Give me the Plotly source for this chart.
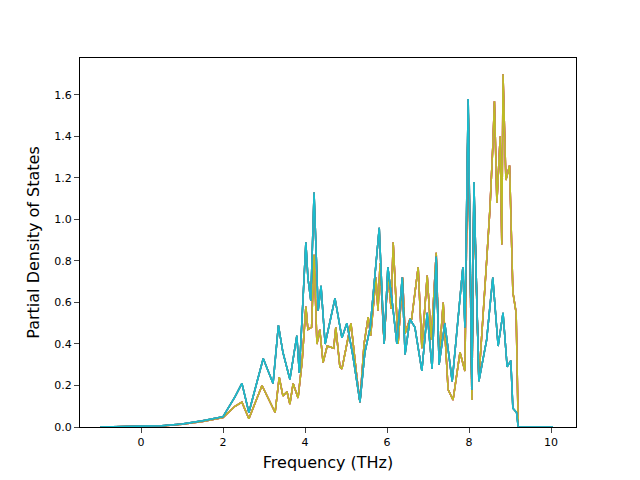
import plotly.graph_objects as go

# frequency (THz) and PDOS, two groups of overlapping curves
freq_a = [-1, 0, 0.5, 1, 1.5, 2, 2.29, 2.46, 2.63, 2.98, 3.22, 3.35, 3.46, 3.63, 3.80, 3.86, 3.93,
          4.02, 4.07, 4.14, 4.22, 4.32, 4.39, 4.49, 4.73, 4.90, 5.02, 5.17, 5.34, 5.46, 5.59, 5.71,
          5.81, 5.93, 6.02, 6.14, 6.24, 6.37, 6.44, 6.56, 6.68, 6.85, 6.98, 7.10, 7.20, 7.27, 7.41,
          7.59, 7.74, 7.85, 7.90, 7.98, 8.07, 8.12, 8.24, 8.43, 8.58, 8.71, 8.83, 8.93, 9.02, 9.07,
          9.16, 9.2, 10.05]
pdos_a = [0, 0.002, 0.006, 0.015, 0.03, 0.05, 0.145, 0.21, 0.07, 0.33, 0.21, 0.49, 0.36, 0.23, 0.44,
          0.26, 0.55, 0.89, 0.72, 0.61, 1.13, 0.56, 0.68, 0.40, 0.62, 0.43, 0.50, 0.34, 0.12, 0.36,
          0.48, 0.76, 0.96, 0.40, 0.77, 0.58, 0.40, 0.72, 0.35, 0.52, 0.48, 0.27, 0.55, 0.28, 0.82,
          0.30, 0.50, 0.22, 0.55, 0.77, 0.48, 1.58, 0.18, 1.18, 0.22, 0.42, 0.72, 0.39, 0.55, 0.29,
          0.32, 0.09, 0.07, 0, 0]

freq_b = [-1, 0, 0.5, 1, 1.5, 2, 2.29, 2.46, 2.63, 2.95, 3.27, 3.37, 3.46, 3.56, 3.63, 3.71, 3.83,
          3.93, 4.02, 4.07, 4.16, 4.22, 4.29, 4.36, 4.44, 4.54, 4.70, 4.75, 4.85, 4.90, 5.12, 5.27,
          5.34, 5.44, 5.54, 5.60, 5.73, 5.78, 5.83, 5.93, 6.02, 6.10, 6.15, 6.27, 6.38, 6.44, 6.56,
          6.60, 6.76, 6.85, 6.98, 7.08, 7.20, 7.27, 7.37, 7.49, 7.61, 7.78, 7.90, 7.98, 8.07, 8.12,
          8.24, 8.43, 8.51, 8.58, 8.62, 8.68, 8.76, 8.80, 8.83, 8.90, 8.99, 9.07, 9.15, 9.2, 10.05]
pdos_b = [0, 0.002, 0.005, 0.013, 0.027, 0.045, 0.10, 0.12, 0.04, 0.20, 0.07, 0.24, 0.15, 0.17,
          0.11, 0.21, 0.14, 0.32, 0.58, 0.47, 0.48, 0.83, 0.40, 0.47, 0.31, 0.39, 0.38, 0.48, 0.29,
          0.28, 0.50, 0.23, 0.12, 0.40, 0.53, 0.44, 0.72, 0.56, 0.79, 0.40, 0.74, 0.57, 0.89, 0.40,
          0.72, 0.45, 0.52, 0.52, 0.77, 0.38, 0.73, 0.42, 0.84, 0.32, 0.60, 0.18, 0.13, 0.36, 0.27,
          1.54, 0.13, 1.13, 0.23, 0.80, 1.05, 1.35, 1.57, 1.08, 1.40, 0.88, 1.70, 1.19, 1.26, 0.65,
          0.55, 0, 0]

colors_b = ["#ff7f0e", "#d62728", "#8c564b", "#e377c2", "#bcbd22"]
colors_a = ["#1f77b4", "#2ca02c", "#9467bd", "#7f7f7f", "#17becf"]

fig = go.Figure()
for c in colors_b:
    fig.add_trace(go.Scatter(x=freq_b, y=pdos_b, mode="lines", line=dict(color=c, width=1.5)))
for c in colors_a:
    fig.add_trace(go.Scatter(x=freq_a, y=pdos_a, mode="lines", line=dict(color=c, width=1.5)))

axis = dict(showline=True, linecolor="black", mirror=True, ticks="outside", showgrid=False,
            zeroline=False, automargin=False, tickfont=dict(size=11, color="black"))
# page body adds an 8px offset, so margins are shifted to compensate
fig.update_layout(
    width=640, height=480, plot_bgcolor="white", paper_bgcolor="white", showlegend=False,
    margin=dict(l=72, r=72, t=50, b=61),
    font=dict(family="DejaVu Sans", color="black"),
    xaxis=dict(axis, range=[-1.49, 10.61], tickvals=[0, 2, 4, 6, 8, 10],
               title=dict(text="Frequency (THz)", font=dict(size=16), standoff=8)),
    yaxis=dict(axis, range=[0, 1.778], tickvals=[0, 0.2, 0.4, 0.6, 0.8, 1.0, 1.2, 1.4, 1.6],
               tickformat=".1f", title=dict(text="Partial Density of States", font=dict(size=16), standoff=10)),
)
fig.write_html("out.html")
